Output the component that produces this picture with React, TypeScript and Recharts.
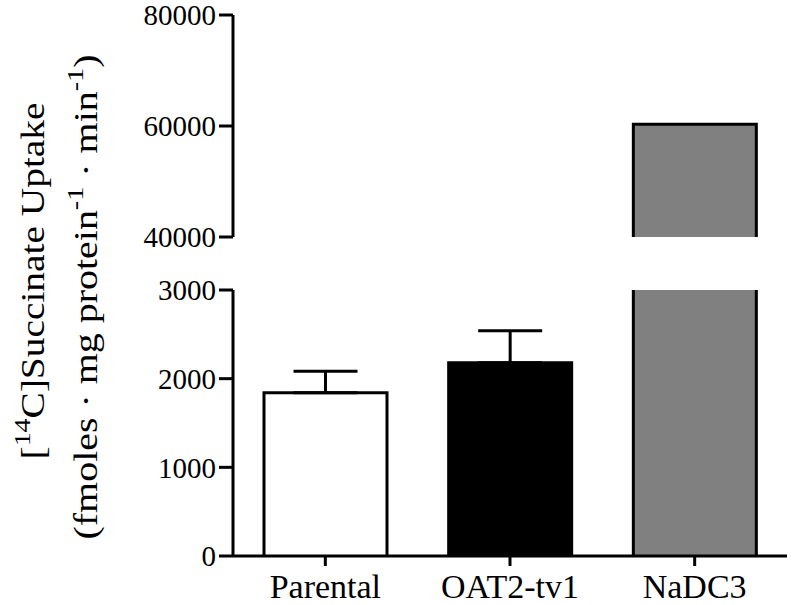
import { Bar, BarChart, Cell, ErrorBar, XAxis, YAxis } from 'recharts'

const categories = ['Parental', 'OAT2-tv1', 'NaDC3']
const uptakeValues = [1840, 2180, 60300]
const uptakeErrors = [245, 360, 0]

const upperTicks = [40000, 60000, 80000]
const lowerTicks = [0, 1000, 2000, 3000]

const barFills = ['#ffffff', '#000000', '#808080']
const serif = "'Liberation Serif', 'Times New Roman', serif"

const upperMin = upperTicks[0]
const upperMax = upperTicks[upperTicks.length - 1]
const lowerMax = lowerTicks[lowerTicks.length - 1]

const lowerData = categories.map((name, i) => ({
  name,
  value: uptakeValues[i],
  err: uptakeErrors[i],
}))

const upperData = categories.map((name, i) => ({
  name,
  value: uptakeValues[i] >= upperMin ? uptakeValues[i] : null,
}))

// bar with no bottom edge, so the broken segments look continuous
function OpenBar(props: any) {
  const { x, y, width, height, fill } = props
  if (width == null || height == null || !(height > 0)) return null
  const bottom = y + height
  return (
    <g>
      <rect x={x} y={y} width={width} height={height} fill={fill} />
      <path
        d={`M${x},${bottom} L${x},${y} L${x + width},${y} L${x + width},${bottom}`}
        fill="none"
        stroke="#000"
        strokeWidth={3}
      />
    </g>
  )
}

const axisStroke = { stroke: '#000', strokeWidth: 3 }
const yTick = { fontSize: 29, fill: '#000', fontFamily: serif }
const xTick = { fontSize: 34, fill: '#000', fontFamily: serif }

function App() {
  return (
    <div
      style={{
        position: 'absolute',
        left: 0,
        top: 0,
        width: 793,
        height: 605,
        background: '#fff',
      }}
    >
      {/* upper segment: 40000 - 80000 */}
      <div style={{ position: 'absolute', left: 0, top: 0 }}>
        <BarChart
          width={793}
          height={265}
          data={upperData}
          margin={{ top: 15, right: 6, bottom: 28, left: 133 }}
          barSize={123}
        >
          <XAxis dataKey="name" hide />
          <YAxis
            width={100}
            type="number"
            domain={[upperMin, upperMax]}
            ticks={upperTicks}
            allowDataOverflow
            axisLine={axisStroke}
            tickLine={axisStroke}
            tickSize={14}
            tickMargin={3}
            tick={yTick}
            interval={0}
          />
          <Bar dataKey="value" shape={<OpenBar />} isAnimationActive={false}>
            {upperData.map((d, i) => (
              <Cell key={d.name} fill={barFills[i]} />
            ))}
          </Bar>
        </BarChart>
      </div>

      {/* lower segment: 0 - 3000 */}
      <div style={{ position: 'absolute', left: 0, top: 250 }}>
        <BarChart
          width={793}
          height={355}
          data={lowerData}
          margin={{ top: 40, right: 6, bottom: 4, left: 133 }}
          barSize={123}
        >
          <XAxis
            dataKey="name"
            height={45}
            axisLine={axisStroke}
            tickLine={axisStroke}
            tickSize={10}
            tickMargin={8}
            tick={xTick}
            interval={0}
          />
          <YAxis
            width={100}
            type="number"
            domain={[0, lowerMax]}
            ticks={lowerTicks}
            allowDataOverflow
            axisLine={axisStroke}
            tickLine={axisStroke}
            tickSize={14}
            tickMargin={3}
            tick={yTick}
            interval={0}
          />
          <Bar dataKey="value" shape={<OpenBar />} isAnimationActive={false}>
            {lowerData.map((d, i) => (
              <Cell key={d.name} fill={barFills[i]} />
            ))}
            <ErrorBar
              dataKey={(d: any) => [0, d.err]}
              direction="y"
              width={32}
              stroke="#000"
              strokeWidth={3}
            />
          </Bar>
        </BarChart>
      </div>

      <svg
        width={793}
        height={605}
        style={{ position: 'absolute', left: 0, top: 0, pointerEvents: 'none' }}
      >
        <text
          transform="translate(44,281) rotate(-90)"
          textAnchor="middle"
          fontFamily={serif}
          fontSize={34}
          fill="#000"
          textLength={357}
          lengthAdjust="spacingAndGlyphs"
        >
          [<tspan fontSize={24} dy={-14}>14</tspan>
          <tspan dy={14}>C]Succinate Uptake</tspan>
        </text>
        <text
          transform="translate(97,297) rotate(-90)"
          textAnchor="middle"
          fontFamily={serif}
          fontSize={34}
          fill="#000"
          textLength={485}
          lengthAdjust="spacingAndGlyphs"
        >
          (fmoles · mg protein<tspan fontSize={24} dy={-14}>-1</tspan>
          <tspan dy={14}> · min</tspan>
          <tspan fontSize={24} dy={-14}>-1</tspan>
          <tspan dy={14}>)</tspan>
        </text>
      </svg>
    </div>
  )
}

export default App
